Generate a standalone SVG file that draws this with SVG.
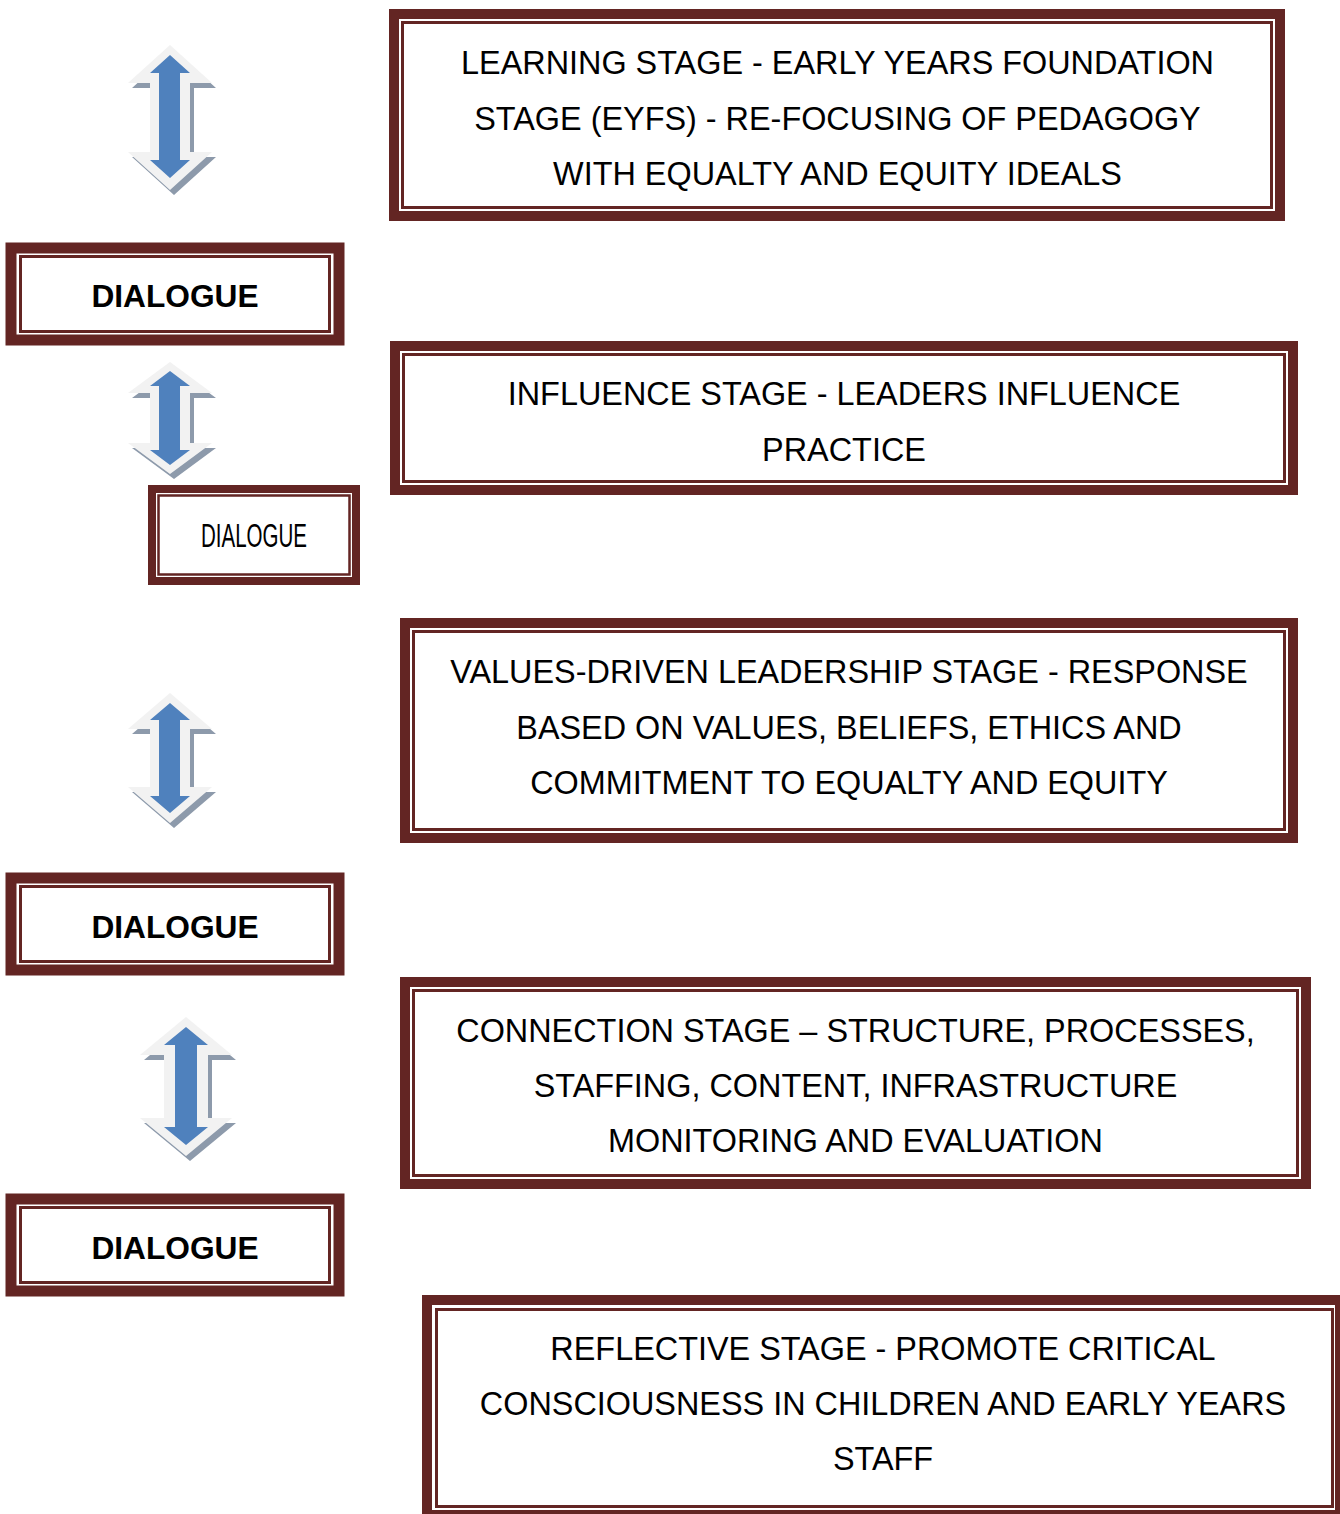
<svg xmlns="http://www.w3.org/2000/svg" width="1340" height="1514" viewBox="0 0 1340 1514">
<style>
.outer{fill:#fff;stroke:#632523;stroke-width:10}
.inner{fill:none;stroke:#632523;stroke-width:3}
.t{font-family:"Liberation Sans",Arial,sans-serif;font-size:32.4px;fill:#000;text-anchor:middle}
.d{font-family:"Liberation Sans",Arial,sans-serif;font-size:31.7px;font-weight:bold;fill:#000;text-anchor:middle}
.sh{fill:#8D9AAB}
.lt{fill:#F2F2F2}
.bl{fill:#4F81BD}
</style>
<rect width="1340" height="1514" fill="#fff"/>
<g id="arrows">
<g id="arrow1">
<path class="sh" transform="translate(4,5)" d="M170,45 L212,83 L190,83 L190,152 L212,152 L170,190 L128,152 L150,152 L150,83 L128,83 Z"/>
<path class="lt" d="M170,45 L212,83 L190,83 L190,152 L212,152 L170,190 L128,152 L150,152 L150,83 L128,83 Z"/>
<path class="bl" d="M170,55 L190,73 L180,73 L180,160 L190,160 L170,178 L150,160 L159,160 L159,73 L150,73 Z"/>
</g>
<g id="arrow2">
<path class="sh" transform="translate(4,5)" d="M170,362 L212,393 L190,393 L190,443 L212,443 L170,474 L128,443 L150,443 L150,393 L128,393 Z"/>
<path class="lt" d="M170,362 L212,393 L190,393 L190,443 L212,443 L170,474 L128,443 L150,443 L150,393 L128,393 Z"/>
<path class="bl" d="M170,371 L190,386 L180,386 L180,450 L190,450 L170,465 L150,450 L159,450 L159,386 L150,386 Z"/>
</g>
<g id="arrow3">
<path class="sh" transform="translate(4,5)" d="M170,693 L212,729 L190,729 L190,787 L212,787 L170,823 L128,787 L150,787 L150,729 L128,729 Z"/>
<path class="lt" d="M170,693 L212,729 L190,729 L190,787 L212,787 L170,823 L128,787 L150,787 L150,729 L128,729 Z"/>
<path class="bl" d="M170,703 L190,720 L180,720 L180,796 L190,796 L170,813 L150,796 L159,796 L159,720 L150,720 Z"/>
</g>
<g id="arrow4">
<path class="sh" transform="translate(4,5)" d="M186,1017 L232,1055 L208,1055 L208,1118 L232,1118 L186,1156 L140,1118 L164,1118 L164,1055 L140,1055 Z"/>
<path class="lt" d="M186,1017 L232,1055 L208,1055 L208,1118 L232,1118 L186,1156 L140,1118 L164,1118 L164,1055 L140,1055 Z"/>
<path class="bl" d="M186,1027 L208,1045 L197,1045 L197,1127 L208,1127 L186,1145 L164,1127 L175,1127 L175,1045 L164,1045 Z"/>
</g>
</g>
<g id="learning">
<rect class="outer" x="394" y="14" width="886" height="202"/>
<rect class="inner" x="402.5" y="22.5" width="869" height="185"/>
<text class="t" x="837.5" y="74">LEARNING STAGE - EARLY YEARS FOUNDATION</text>
<text class="t" x="837.5" y="130">STAGE (EYFS) - RE-FOCUSING OF PEDAGOGY</text>
<text class="t" x="837.5" y="185">WITH EQUALTY AND EQUITY IDEALS</text>
</g>
<g id="dialogue1">
<rect class="outer" x="11" y="248" width="328" height="92" style="stroke-width:11"/>
<rect class="inner" x="20.5" y="256.5" width="309" height="75"/>
<text class="d" x="175" y="307">DIALOGUE</text>
</g>
<g id="influence">
<rect class="outer" x="395" y="346" width="898" height="144"/>
<rect class="inner" x="403.5" y="354.5" width="881" height="127"/>
<text class="t" x="844" y="405">INFLUENCE STAGE - LEADERS INFLUENCE</text>
<text class="t" x="844" y="461">PRACTICE</text>
</g>
<g id="dialogue-small">
<rect class="outer" x="152" y="489" width="204" height="92" style="stroke-width:8"/>
<rect class="inner" x="158.5" y="495.5" width="191" height="79" style="stroke-width:2.5"/>
<text x="254" y="547" font-family="'Liberation Sans',Arial,sans-serif" font-size="34" text-anchor="middle" textLength="106" lengthAdjust="spacingAndGlyphs">DIALOGUE</text>
</g>
<g id="values">
<rect class="outer" x="405" y="623" width="888" height="215"/>
<rect class="inner" x="413.5" y="631.5" width="871" height="198"/>
<text class="t" x="849" y="683">VALUES-DRIVEN LEADERSHIP STAGE - RESPONSE</text>
<text class="t" x="849" y="739">BASED ON VALUES, BELIEFS, ETHICS AND</text>
<text class="t" x="849" y="794">COMMITMENT TO EQUALTY AND EQUITY</text>
</g>
<g id="dialogue2">
<rect class="outer" x="11" y="878" width="328" height="92" style="stroke-width:11"/>
<rect class="inner" x="20.5" y="886.5" width="309" height="75"/>
<text class="d" x="175" y="938">DIALOGUE</text>
</g>
<g id="connection">
<rect class="outer" x="405" y="982" width="901" height="202"/>
<rect class="inner" x="413.5" y="990.5" width="884" height="185"/>
<text class="t" x="855.5" y="1042">CONNECTION STAGE – STRUCTURE, PROCESSES,</text>
<text class="t" x="855.5" y="1097">STAFFING, CONTENT, INFRASTRUCTURE</text>
<text class="t" x="855.5" y="1152">MONITORING AND EVALUATION</text>
</g>
<g id="dialogue3">
<rect class="outer" x="11" y="1199" width="328" height="92" style="stroke-width:11"/>
<rect class="inner" x="20.5" y="1207.5" width="309" height="75"/>
<text class="d" x="175" y="1259">DIALOGUE</text>
</g>
<g id="reflective">
<rect class="outer" x="427" y="1300" width="913" height="215"/>
<rect class="inner" x="436.5" y="1309.5" width="896" height="197"/>
<text class="t" x="883" y="1360">REFLECTIVE STAGE - PROMOTE CRITICAL</text>
<text class="t" x="883" y="1415">CONSCIOUSNESS IN CHILDREN AND EARLY YEARS</text>
<text class="t" x="883" y="1470">STAFF</text>
</g>
<g id="connectors"></g>
</svg>
